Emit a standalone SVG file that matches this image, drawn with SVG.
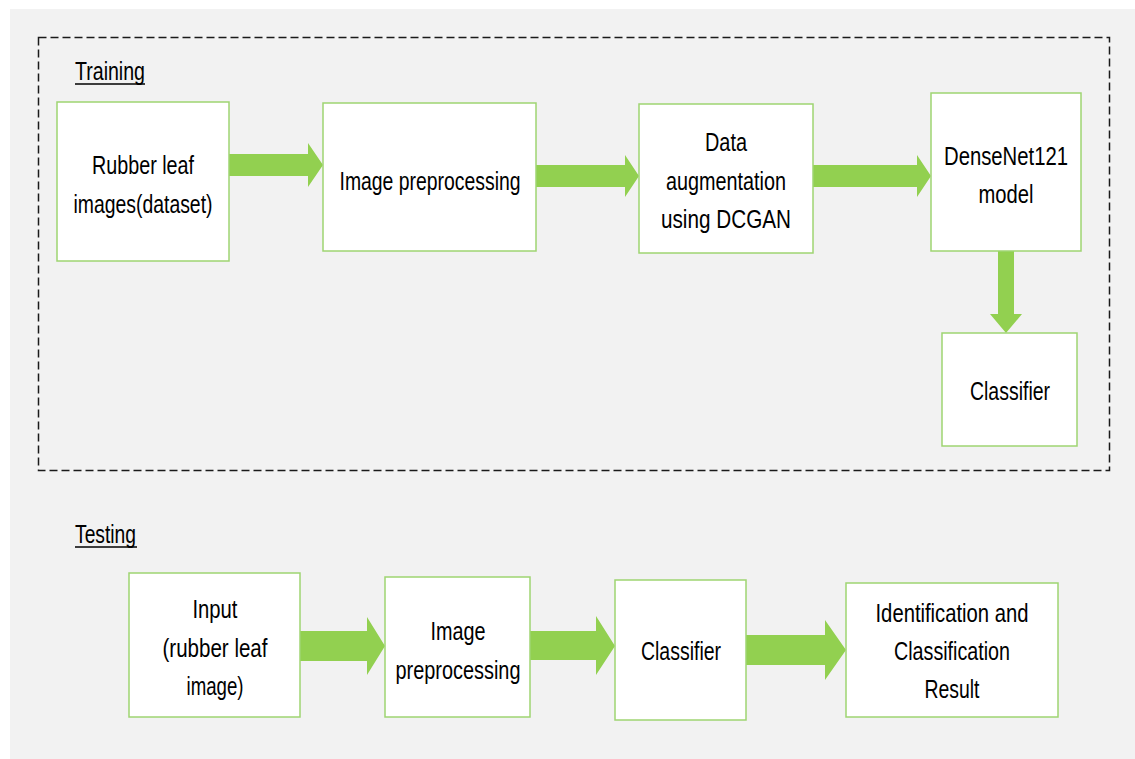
<svg xmlns="http://www.w3.org/2000/svg" width="1135" height="759" viewBox="0 0 1135 759">
  <style>
    .box { fill: #ffffff; stroke: #9fd572; stroke-width: 1.5; }
    .arrow { fill: #92d050; }
    .lbl { font-family: "Liberation Sans", Arial, sans-serif; font-size: 25px; fill: #000000; text-anchor: middle; }
    .head { font-family: "Liberation Sans", Arial, sans-serif; font-size: 25px; fill: #000000; }
    .frame { fill: none; stroke: #1a1a1a; stroke-width: 1.5; stroke-dasharray: 8 4; }
  </style>
  <rect x="0" y="0" width="1135" height="759" fill="#ffffff"/>
  <rect x="10" y="9" width="1125" height="750" fill="#f2f2f2"/>

  <!-- training section frame -->
  <rect class="frame" x="38.5" y="37.5" width="1071" height="433"/>

  <g id="section-labels">
    <text class="head" x="75" y="80" textLength="70" lengthAdjust="spacingAndGlyphs">Training</text>
    <line x1="75" y1="84" x2="145" y2="84" stroke="#000" stroke-width="1.5"/>
    <text class="head" x="75" y="543" textLength="61" lengthAdjust="spacingAndGlyphs">Testing</text>
    <line x1="75" y1="547" x2="137" y2="547" stroke="#000" stroke-width="1.5"/>
  </g>

  <!-- block arrows -->
  <g id="connectors">
    <polygon class="arrow" points="229,154 308,154 308,143 323,165 308,187 308,176 229,176"/>
    <polygon class="arrow" points="536,165 625,165 625,155 639,176 625,197 625,187 536,187"/>
    <polygon class="arrow" points="813,165 917,165 917,155 931,176 917,197 917,187 813,187"/>
    <polygon class="arrow" points="998,251 1014,251 1014,314 1022,314 1006,333 990,314 998,314"/>
    <polygon class="arrow" points="300,631 367,631 367,617 385,646 367,675 367,661 300,661"/>
    <polygon class="arrow" points="530,631 596,631 596,616 615,646 596,675 596,660 530,660"/>
    <polygon class="arrow" points="746,635 825,635 825,620 846,650 825,680 825,665 746,665"/>
  </g>

  <!-- training nodes -->
  <g id="node-dataset">
    <rect class="box" x="57" y="102" width="172" height="159"/>
    <text class="lbl" x="143" y="174" textLength="102" lengthAdjust="spacingAndGlyphs">Rubber leaf</text>
    <text class="lbl" x="143" y="213" textLength="139" lengthAdjust="spacingAndGlyphs">images(dataset)</text>
  </g>
  <g id="node-preprocessing">
    <rect class="box" x="323" y="103" width="213" height="148"/>
    <text class="lbl" x="430" y="190" textLength="181" lengthAdjust="spacingAndGlyphs">Image preprocessing</text>
  </g>
  <g id="node-augmentation">
    <rect class="box" x="639" y="104" width="174" height="149"/>
    <text class="lbl" x="726" y="151" textLength="42" lengthAdjust="spacingAndGlyphs">Data</text>
    <text class="lbl" x="726" y="190" textLength="120" lengthAdjust="spacingAndGlyphs">augmentation</text>
    <text class="lbl" x="726" y="228" textLength="130" lengthAdjust="spacingAndGlyphs">using DCGAN</text>
  </g>
  <g id="node-densenet">
    <rect class="box" x="931" y="93" width="150" height="158"/>
    <text class="lbl" x="1006" y="165" textLength="124" lengthAdjust="spacingAndGlyphs">DenseNet121</text>
    <text class="lbl" x="1006" y="203" textLength="55" lengthAdjust="spacingAndGlyphs">model</text>
  </g>
  <g id="node-classifier-train">
    <rect class="box" x="942" y="333" width="135" height="113"/>
    <text class="lbl" x="1010" y="400" textLength="80" lengthAdjust="spacingAndGlyphs">Classifier</text>
  </g>

  <!-- testing nodes -->
  <g id="node-input">
    <rect class="box" x="129" y="573" width="171" height="144"/>
    <text class="lbl" x="215" y="618" textLength="45" lengthAdjust="spacingAndGlyphs">Input</text>
    <text class="lbl" x="215" y="657" textLength="105" lengthAdjust="spacingAndGlyphs">(rubber leaf</text>
    <text class="lbl" x="215" y="695" textLength="57" lengthAdjust="spacingAndGlyphs">image)</text>
  </g>
  <g id="node-preprocessing-test">
    <rect class="box" x="385" y="577" width="145" height="140"/>
    <text class="lbl" x="458" y="640" textLength="55" lengthAdjust="spacingAndGlyphs">Image</text>
    <text class="lbl" x="458" y="679" textLength="125" lengthAdjust="spacingAndGlyphs">preprocessing</text>
  </g>
  <g id="node-classifier-test">
    <rect class="box" x="615" y="580" width="131" height="140"/>
    <text class="lbl" x="681" y="660" textLength="80" lengthAdjust="spacingAndGlyphs">Classifier</text>
  </g>
  <g id="node-result">
    <rect class="box" x="846" y="583" width="212" height="134"/>
    <text class="lbl" x="952" y="622" textLength="153" lengthAdjust="spacingAndGlyphs">Identification and</text>
    <text class="lbl" x="952" y="660" textLength="116" lengthAdjust="spacingAndGlyphs">Classification</text>
    <text class="lbl" x="952" y="698" textLength="55" lengthAdjust="spacingAndGlyphs">Result</text>
  </g>
</svg>
